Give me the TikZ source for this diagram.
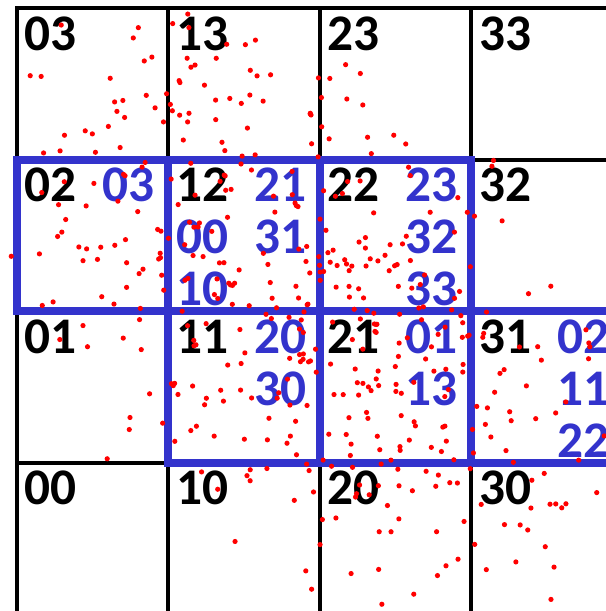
\documentclass[tikz,border=0pt]{standalone}
\usepackage{fontspec}
\setmainfont{Carlito}
\definecolor{cellblue}{RGB}{51,51,204}
\definecolor{dotred}{RGB}{255,0,0}

\begin{document}
\begin{tikzpicture}[
  x=1.515cm, y=1.515cm,
  every node/.style={inner sep=0pt},
  gridline/.style={draw=black, line width=0.04cm},
  bluebox/.style={draw=cellblue, line width=0.08cm},
  cellid/.style={font=\fontsize{14.6}{15}\selectfont\bfseries, text=black, anchor=north west},
  nbr/.style={font=\fontsize{14.6}{15}\selectfont\bfseries, text=cellblue, anchor=north east},
  nbrl/.style={nbr, anchor=north west},
  pt/.style={fill=dotred, draw=none},
]
\useasboundingbox (0cm,0cm) rectangle (6.06cm,6.11cm);
\clip (0cm,0cm) rectangle (6.06cm,6.11cm);

\begin{scope}[shift={(0.17cm,-0.03cm)}]

%% ---- grid of cells with their ids ----
\foreach \i in {0,...,3}
  \foreach \j in {0,...,3}{
    \draw[gridline] (\i,\j) rectangle ++(1,1);
    \node[cellid] (c\i\j) at ([xshift=0.07cm,yshift=-0.08cm]\i,{\j+1}) {\i\j};
  }

%% ---- highlighted cells ----
\foreach \i/\j in {0/2,1/2,2/2,1/1,2/1,3/1}
  \draw[bluebox] (\i,\j) rectangle ++(1,1);

%% ---- neighbour lists (right column, top-right corner of cell) ----
\foreach \c/\r/\k/\t in {1/3/0/03, 2/3/0/21, 2/3/1/31, 3/3/0/23, 3/3/1/32, 3/3/2/33,
                         2/2/0/20, 2/2/1/30, 3/2/0/01, 3/2/1/13,
                         4/2/0/02, 4/2/1/11, 4/2/2/22}{
  \pgfmathsetmacro\dy{-0.08-0.52*\k}
  \node[nbr] (b\c\r\k) at ([xshift=-0.13cm,yshift=\dy cm]\c,\r) {\t};
}
% left column in cell 12
\node[nbrl] (l00) at ([xshift=0.07cm,yshift=-0.60cm]1,3) {00};
\node[nbrl] (l10) at ([xshift=0.07cm,yshift=-1.12cm]1,3) {10};

%% ---- scattered points ----
\pgfmathsetseed{2024}
\foreach \n in {1,...,480}{
  \pgfmathsetmacro\u{1.4*(rand+rand)}
  \pgfmathsetmacro\v{0.66*(rand+rand+rand)}
  \fill[pt] ({1.95+0.7071*(\u+\v)},{2.0+0.7071*(\v-\u)}) circle (0.026cm);
}

\end{scope}
\end{tikzpicture}
\end{document}
